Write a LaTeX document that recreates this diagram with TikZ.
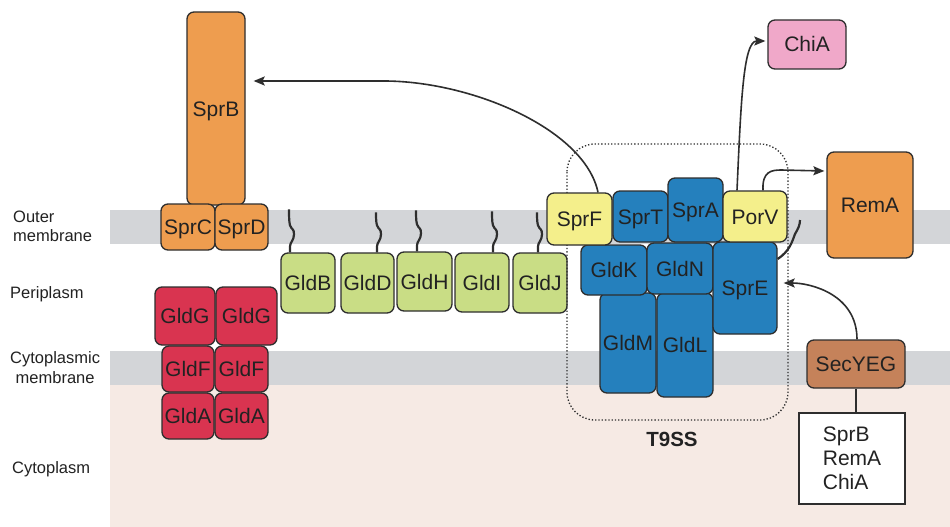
\documentclass[tikz,border=0pt]{standalone}
\usepackage{fontspec}
\setmainfont{Liberation Sans}
\usetikzlibrary{arrows.meta,calc}
\definecolor{membgray}{HTML}{D3D5D8}
\definecolor{cytopink}{HTML}{F6EAE4}
\definecolor{outl}{HTML}{2E2E2E}
\definecolor{txt}{HTML}{222222}
\definecolor{porange}{HTML}{EE9D4F}
\definecolor{pred}{HTML}{D93450}
\definecolor{pgreen}{HTML}{C9DD85}
\definecolor{pyellow}{HTML}{F4EF8B}
\definecolor{pblue}{HTML}{2580BD}
\definecolor{ppink}{HTML}{F0A8C9}
\definecolor{pbrown}{HTML}{C5825A}
\begin{document}
\begin{tikzpicture}[x=1pt,y=-1pt,
  prot/.style={draw=outl, line width=1.3pt, rounded corners=7pt, inner sep=0pt,
    font=\fontsize{21}{23}\selectfont, text=txt, text height=15pt, text depth=0pt},
  sz/.style 2 args={minimum width=#1pt, minimum height=#2pt},
  zone/.style={anchor=west, font=\fontsize{16.5}{19.5}\selectfont, text=txt, inner sep=0pt},
  arr/.style={draw=outl, line width=1.6pt, -{Stealth[length=11pt,width=9pt,inset=2pt]}},
  anchorline/.style={draw=outl, line width=1.6pt},
  lipid/.style={draw=outl, line width=2.2pt},
]
\useasboundingbox (0,0) rectangle (950,527);
\fill[white] (0,0) rectangle (950,527);
% compartments
\fill[cytopink] (110,385) rectangle (950,527);
\fill[membgray] (110,210) rectangle (950,244);
\fill[membgray] (110,351) rectangle (950,385);

% compartment labels
\node[zone, align=left] (lblOM) at (13,226.5) {Outer\\membrane};
\node[zone] (lblPP) at (10,294) {Periplasm};
\node[zone, align=center] (lblCM) at (10,367.5) {Cytoplasmic\\membrane};
\node[zone] (lblCY) at (12,469) {Cytoplasm};

% gliding adhesin and its anchors
\node[prot, fill=porange, sz={58}{193}] (sprB) at (216,108.5) {SprB};
\node[prot, fill=porange, sz={54}{46}] (sprC) at (188,227) {SprC};
\node[prot, fill=porange, sz={53}{46}] (sprD) at (241.5,227) {SprD};

% gliding motor in the inner membrane
\node[prot, fill=pred, sz={60}{58}] (gldG1) at (185,316) {GldG};
\node[prot, fill=pred, sz={61}{58}] (gldG2) at (246.5,316) {GldG};
\node[prot, fill=pred, sz={52}{46}] (gldF1) at (188,369) {GldF};
\node[prot, fill=pred, sz={53}{46}] (gldF2) at (241.5,369) {GldF};
\node[prot, fill=pred, sz={52}{46}] (gldA1) at (188,416) {GldA};
\node[prot, fill=pred, sz={53}{46}] (gldA2) at (241.5,416) {GldA};

% lipoproteins with their lipid anchors
\node[prot, fill=pgreen, sz={54}{60}] (gldB) at (308,283) {GldB};
\node[prot, fill=pgreen, sz={53}{60}] (gldD) at (367.5,283) {GldD};
\node[prot, fill=pgreen, sz={55}{59}] (gldH) at (424.5,281.5) {GldH};
\node[prot, fill=pgreen, sz={54}{59}] (gldI) at (482,282.5) {GldI};
\node[prot, fill=pgreen, sz={54}{60}] (gldJ) at (540,283) {GldJ};
\foreach \n/\dx/\top in {gldB/-18/210, gldD/9.5/213, gldH/-7.5/212, gldI/11/212, gldJ/-2/213}{
  \draw[lipid] ($(\n.north)+(\dx,0)$)
    -- ++(0,-6)
    .. controls +(0,-4) and +(0,6) .. ++(4,-12)
    .. controls +(0,-6) and +(2,5) .. ++(-4,-9)
    .. controls +(-1,-3) and +(0,4) .. ++(-1,-\fpeval{253-\top-27});
}

% type IX secretion system
\draw[outl, line width=1.3pt, dotted, rounded corners=28pt] (567,144) rectangle (788,420);
\node[font=\bfseries\fontsize{20.5}{22}\selectfont, text=txt, inner sep=0pt] (t9ss) at (672,439) {T9SS};

\node[prot, fill=pblue, sz={56}{100}] (gldM) at (628,343) {GldM};
\node[prot, fill=pblue, sz={56}{104}] (gldL) at (685,345) {GldL};
\node[prot, fill=pblue, sz={66}{50}] (gldK) at (614,270) {GldK};
\node[prot, fill=pblue, sz={66}{51}] (gldN) at (680,268.5) {GldN};
\node[prot, fill=pblue, sz={64}{92}] (sprE) at (745,288) {SprE};
\node[prot, fill=pyellow, sz={65}{52}] (sprF) at (579.5,219) {SprF};
\node[prot, fill=pblue, sz={55}{51}] (sprT) at (640.5,216.5) {SprT};
\node[prot, fill=pblue, sz={55}{64}] (sprA) at (695.5,210) {SprA};
\node[prot, fill=pyellow, sz={64}{51}] (porV) at (755,216.5) {PorV};

% SprE lipid anchor
\coordinate (sprEtail) at (800,220);
\draw[lipid] ($(sprE.east)+(0,-29)$)
  .. controls +(12,-8) and +(-3,8) .. (795,234)
  .. controls +(3,-5) and +(0,5) .. (sprEtail);

% secreted cargo
\node[prot, fill=ppink, sz={78}{49}] (chiA) at (807,44.5) {ChiA};
\node[prot, fill=porange, sz={86}{106}] (remA) at (870,205) {RemA};
\node[prot, fill=pbrown, sz={98}{48}] (secYEG) at (856,364) {SecYEG};
\node[draw=outl, line width=1.3pt, fill=white, sz={106}{91}, inner sep=0pt,
  align=left, font=\fontsize{21}{24}\selectfont, text=txt] (cargo) at (852,458.5) {SprB\\RemA\\ChiA};

% transport routes
\draw[anchorline] (secYEG.south) -- (secYEG.south |- cargo.north);
\draw[arr] ($(secYEG.north)+(1,0)$) .. controls +(0,-45) and +(27,0) .. ($(sprE.east)+(6,-5)$);
\draw[arr] ($(sprF.north)+(18.5,0)$) .. controls +(-13,-63) and +(90,-1) .. ($(sprB.east)+(135,-27.5)$)
  -- ($(sprB.east)+(8,-27.5)$);
\draw[arr] ($(porV.north)+(-18,0)$) .. controls +(4,-90) and +(-22,0) .. ($(chiA.west)+(-2,-3.5)$);
\draw[arr] ($(porV.north)+(8,0)$) .. controls +(-1,-19) and +(-10,0) .. ($(remA.west)+(-45,-35)$)
  -- ($(remA.west)+(-2,-34)$);
\end{tikzpicture}
\end{document}
